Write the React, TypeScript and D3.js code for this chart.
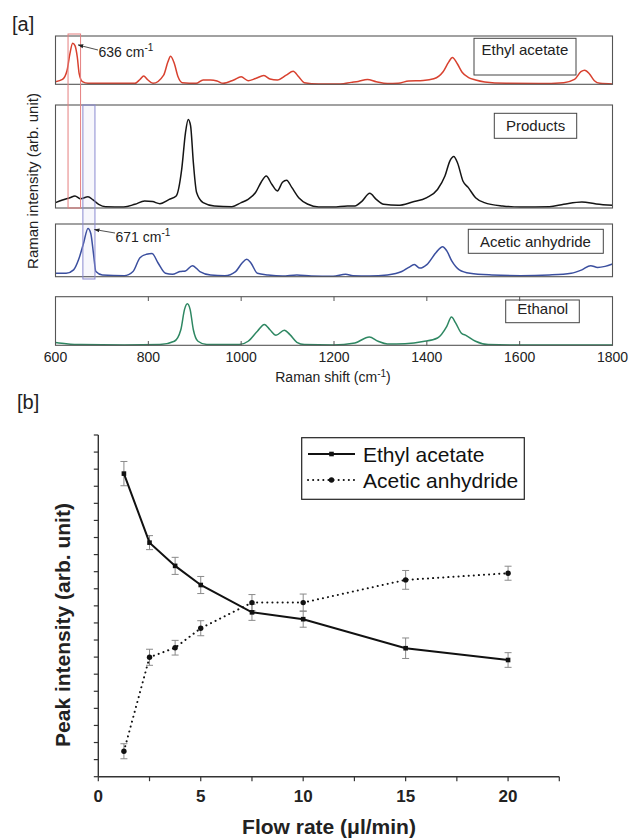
import React from 'react';
import * as d3 from 'd3';

type Pt = [number, number];

// ---------- Panel [a] data: Raman spectra (wavenumber, normalised intensity within panel) ----------
const ramanTicks = [600, 800, 1000, 1200, 1400, 1600, 1800];

const ethylAcetateSpectrum: Pt[] = [
  [600, 0.054], [615, 0.1], [625, 0.29], [631, 0.63], [637, 0.85], [642, 0.8], [647, 0.56], [651, 0.22],
  [658, 0.054], [670, 0.02], [771, 0.02], [782, 0.1], [790, 0.17], [798, 0.1], [810, 0.02], [833, 0.19],
  [842, 0.46], [848, 0.58], [856, 0.43], [864, 0.155], [873, 0.034], [903, 0.02], [918, 0.09], [934, 0.09],
  [948, 0.07], [961, 0.02], [984, 0.09], [1000, 0.155], [1015, 0.075], [1031, 0.12], [1049, 0.18],
  [1062, 0.11], [1078, 0.09], [1097, 0.19], [1112, 0.27], [1124, 0.155], [1136, 0.034], [1167, 0.007],
  [1214, 0.007], [1237, 0.04], [1252, 0.06], [1272, 0.1], [1291, 0.054], [1315, 0.014], [1338, 0.02],
  [1361, 0.07], [1392, 0.08], [1415, 0.115], [1435, 0.26], [1447, 0.46], [1455, 0.555], [1466, 0.42],
  [1476, 0.25], [1490, 0.14], [1505, 0.09], [1525, 0.05], [1571, 0.02], [1641, 0.014], [1695, 0.034],
  [1718, 0.1], [1732, 0.26], [1740, 0.29], [1750, 0.22], [1761, 0.074], [1773, 0.02], [1800, 0.007],
];

const productsSpectrum: Pt[] = [
  [600, 0.052], [615, 0.078], [631, 0.1], [642, 0.117], [654, 0.09], [670, 0.11], [681, 0.078],
  [693, 0.036], [708, 0.013], [747, 0.01], [771, 0.036], [792, 0.068], [809, 0.062], [825, 0.042],
  [845, 0.084], [860, 0.117], [872, 0.38], [880, 0.73], [886, 0.86], [891, 0.8], [897, 0.44],
  [904, 0.15], [918, 0.052], [942, 0.02], [980, 0.013], [1000, 0.052], [1015, 0.084], [1031, 0.15],
  [1043, 0.25], [1054, 0.31], [1066, 0.23], [1078, 0.166], [1089, 0.25], [1098, 0.27], [1109, 0.2],
  [1124, 0.1], [1144, 0.036], [1167, 0.01], [1198, 0.01], [1229, 0.02], [1245, 0.02], [1260, 0.065],
  [1277, 0.143], [1291, 0.084], [1307, 0.036], [1338, 0.026], [1369, 0.058], [1400, 0.1], [1423, 0.18],
  [1439, 0.31], [1450, 0.46], [1458, 0.5], [1466, 0.44], [1478, 0.26], [1489, 0.2], [1505, 0.1],
  [1524, 0.052], [1563, 0.02], [1602, 0.01], [1664, 0.013], [1695, 0.036], [1734, 0.058],
  [1765, 0.039], [1800, 0.026],
];

const aceticAnhydrideSpectrum: Pt[] = [
  [600, 0.065], [623, 0.065], [639, 0.13], [650, 0.33], [660, 0.62], [670, 0.915], [676, 0.82],
  [682, 0.425], [687, 0.098], [701, 0.033], [748, 0.02], [767, 0.098], [782, 0.36], [796, 0.425],
  [808, 0.44], [821, 0.26], [837, 0.065], [852, 0.046], [868, 0.098], [880, 0.11], [895, 0.21],
  [911, 0.098], [934, 0.033], [965, 0.02], [988, 0.098], [1002, 0.26], [1012, 0.33], [1021, 0.26],
  [1035, 0.065], [1058, 0.033], [1089, 0.013], [1120, 0.033], [1151, 0.013], [1198, 0.007],
  [1225, 0.046], [1241, 0.02], [1276, 0.013], [1315, 0.033], [1346, 0.098], [1361, 0.176],
  [1373, 0.23], [1385, 0.163], [1400, 0.23], [1420, 0.46], [1434, 0.57], [1443, 0.49], [1454, 0.294],
  [1470, 0.13], [1493, 0.065], [1540, 0.033], [1602, 0.02], [1664, 0.033], [1711, 0.065],
  [1734, 0.13], [1753, 0.21], [1768, 0.176], [1784, 0.196], [1800, 0.24],
];

const ethanolSpectrum: Pt[] = [
  [600, 0.06], [623, 0.034], [654, 0.014], [748, 0.007], [825, 0.014], [856, 0.083], [870, 0.32],
  [878, 0.74], [884, 0.855], [890, 0.74], [897, 0.32], [907, 0.083], [926, 0.014], [996, 0.014],
  [1015, 0.083], [1035, 0.29], [1050, 0.43], [1062, 0.32], [1075, 0.207], [1093, 0.31], [1105, 0.22],
  [1120, 0.062], [1136, 0.014], [1198, 0.007], [1245, 0.048], [1276, 0.172], [1295, 0.083],
  [1315, 0.028], [1353, 0.034], [1392, 0.076], [1423, 0.15], [1443, 0.39], [1453, 0.58], [1462, 0.46],
  [1474, 0.255], [1485, 0.2], [1505, 0.083], [1532, 0.014], [1602, 0.007], [1800, 0.007],
];

const spectrumNames = ['Ethyl acetate', 'Products', 'Acetic anhydride', 'Ethanol'];
const markedBands: [number, number][] = [[627, 654], [659, 685]];
const markedPeaks = [636, 671];

// ---------- Panel [b] data ----------
const flowRates = [1.25, 2.5, 3.75, 5, 7.5, 10, 15, 20];
const ethylAcetatePeak = [17.74, 13.7, 12.34, 11.22, 9.62, 9.22, 7.52, 6.83];
const ethylAcetateErr = [0.71, 0.41, 0.5, 0.5, 0.47, 0.47, 0.6, 0.43];
const aceticAnhydridePeak = [1.49, 6.99, 7.55, 8.69, 10.19, 10.19, 11.52, 11.91];
const aceticAnhydrideErr = [0.44, 0.47, 0.43, 0.44, 0.47, 0.5, 0.55, 0.41];
const flowMajorTicks = [0, 5, 10, 15, 20];
const flowMinorTicks = [2.5, 7.5, 12.5, 17.5, 22.5];
const intensityTicks = [0, 1, 2, 3, 4, 5, 6, 7, 8, 9, 10, 11, 12, 13, 14, 15, 16, 17, 18, 19, 20];

const FONT = 'Liberation Sans, Arial, Helvetica, sans-serif';

export default function App() {
  // ----- panel a layout -----
  const xA = d3.scaleLinear().domain([600, 1800]).range([55.5, 612.5]);
  const panels = [
    { data: ethylAcetateSpectrum, color: '#d8412f', top: 36, bottom: 84.3,
      box: [474, 38.3, 102, 36.7], tx: 481.5, ty: 55 },
    { data: productsSpectrum, color: '#151515', top: 105, bottom: 208,
      box: [494.3, 113.3, 82.4, 25], tx: 506, ty: 130.5 },
    { data: aceticAnhydrideSpectrum, color: '#3b4f9f', top: 224, bottom: 276.7,
      box: [468.3, 229.3, 135, 24], tx: 480, ty: 246.5 },
    { data: ethanolSpectrum, color: '#2e8762', top: 296.7, bottom: 345.3,
      box: [505.7, 300, 73.6, 22.7], tx: 517.3, ty: 313.5 },
  ];

  // ----- panel b layout -----
  const xB = d3.scaleLinear().domain([0, 22.5]).range([98.3, 559.3]);
  const yB = d3.scaleLinear().domain([0, 20]).range([776.7, 435]);
  const lineB = d3.line<number>().x((_, i) => xB(flowRates[i]));
  const eaPath = d3.line<number>().x((_, i) => xB(flowRates[i])).y((d) => yB(d))(ethylAcetatePeak) || '';
  const aaPath = d3.line<number>().x((_, i) => xB(flowRates[i])).y((d) => yB(d))(aceticAnhydridePeak) || '';
  void lineB;

  const errBars = (vals: number[], errs: number[], key: string) =>
    vals.map((v, i) => {
      const cx = xB(flowRates[i]);
      const y1 = yB(v + errs[i]);
      const y2 = yB(v - errs[i]);
      return (
        <g key={key + i} stroke="#8a8a8a" strokeWidth={1}>
          <line x1={cx} x2={cx} y1={y1} y2={y2} />
          <line x1={cx - 3.5} x2={cx + 3.5} y1={y1} y2={y1} />
          <line x1={cx - 3.5} x2={cx + 3.5} y1={y2} y2={y2} />
        </g>
      );
    });

  return (
    <svg width={630} height={839} viewBox="0 0 630 839"
      style={{ position: 'absolute', left: 0, top: 0, background: '#fff' }} fontFamily={FONT}>
      <rect x={0} y={0} width={630} height={839} fill="#fff" />
      <defs>
        <marker id="arrowHead" viewBox="0 0 10 10" refX={9} refY={5} markerWidth={7} markerHeight={7} orient="auto">
          <path d="M0,1.5 L10,5 L0,8.5 Z" fill="#222" />
        </marker>
      </defs>

      {/* ================= Panel [a] ================= */}
      <text x={12} y={31} fontSize={20} fill="#222">[a]</text>

      {panels.map((p, i) => {
        const y = d3.scaleLinear().domain([0, 1]).range([p.bottom, p.top]);
        const path = d3.line<Pt>().x((d) => xA(d[0])).y((d) => y(d[1])).curve(d3.curveMonotoneX)(p.data) || '';
        return (
          <g key={'panel' + i}>
            <path d={path} fill="none" stroke={p.color} strokeWidth={1.5} strokeLinejoin="round" />
            <rect x={xA(600)} y={p.top} width={xA(1800) - xA(600)} height={p.bottom - p.top}
              fill="none" stroke="#555" strokeWidth={1.1} />
            <rect x={p.box[0]} y={p.box[1]} width={p.box[2]} height={p.box[3]}
              fill="#fff" stroke="#444" strokeWidth={1} />
            <text x={p.tx} y={p.ty} fontSize={15} fill="#222">{spectrumNames[i]}</text>
          </g>
        );
      })}

      {/* ticks on bottom panel */}
      {ramanTicks.slice(1, -1).map((t) => (
        <g key={'rt' + t} stroke="#555" strokeWidth={1}>
          <line x1={xA(t)} x2={xA(t)} y1={345.3} y2={341} />
          <line x1={xA(t)} x2={xA(t)} y1={296.7} y2={301} />
        </g>
      ))}
      {ramanTicks.map((t) => (
        <text key={'rl' + t} x={xA(t)} y={362} fontSize={14} textAnchor="middle" fill="#222">{t}</text>
      ))}
      <text x={333} y={382} fontSize={14} textAnchor="middle" fill="#222">
        Raman shift (cm<tspan dy={-5} fontSize={10}>-1</tspan><tspan dy={5}>)</tspan>
      </text>
      <text transform="translate(32,181) rotate(-90)" fontSize={15} textAnchor="middle"
        dominantBaseline="central" fill="#222">Raman intensity (arb. unit)</text>

      {/* marked bands */}
      <rect x={xA(markedBands[0][0])} y={34} width={xA(markedBands[0][1]) - xA(markedBands[0][0])} height={174}
        fill="none" stroke="#e57f7f" strokeWidth={1} />
      <rect x={xA(markedBands[1][0])} y={105} width={xA(markedBands[1][1]) - xA(markedBands[1][0])} height={174}
        fill="rgba(120,120,200,0.06)" stroke="#8a8ad0" strokeWidth={1} />

      {/* annotations */}
      <line x1={98} y1={50} x2={xA(markedPeaks[0]) + 6} y2={45} stroke="#222" strokeWidth={0.8} markerEnd="url(#arrowHead)" />
      <text x={98.5} y={56.5} fontSize={14} fill="#222">
        {markedPeaks[0]} cm<tspan dy={-6} fontSize={10}>-1</tspan>
      </text>
      <line x1={115} y1={233} x2={xA(markedPeaks[1]) + 6} y2={229.5} stroke="#222" strokeWidth={0.8} markerEnd="url(#arrowHead)" />
      <text x={115.5} y={241.5} fontSize={14} fill="#222">
        {markedPeaks[1]} cm<tspan dy={-6} fontSize={10}>-1</tspan>
      </text>

      {/* ================= Panel [b] ================= */}
      <text x={17} y={409} fontSize={20} fill="#222">[b]</text>

      {/* axes */}
      <line x1={xB(0)} x2={xB(0)} y1={yB(20)} y2={yB(0)} stroke="#333" strokeWidth={1.4} />
      <line x1={xB(0)} x2={xB(22.5)} y1={yB(0)} y2={yB(0)} stroke="#333" strokeWidth={1.4} />
      {intensityTicks.map((t) => (
        <line key={'yt' + t} x1={xB(0) - 4.5} x2={xB(0)} y1={yB(t)} y2={yB(t)} stroke="#333" strokeWidth={1.2} />
      ))}
      {[...flowMajorTicks, ...flowMinorTicks].map((t) => (
        <line key={'xt' + t} x1={xB(t)} x2={xB(t)} y1={yB(0)} y2={yB(0) + 4.5} stroke="#333" strokeWidth={1.2} />
      ))}
      {flowMajorTicks.map((t) => (
        <text key={'xl' + t} x={xB(t)} y={802} fontSize={17} fontWeight="bold" textAnchor="middle" fill="#222">{t}</text>
      ))}
      <text x={329} y={834} fontSize={21} fontWeight="bold" textAnchor="middle" fill="#222">Flow rate (μl/min)</text>
      <text transform="translate(62,625) rotate(-90)" fontSize={21} fontWeight="bold" textAnchor="middle"
        dominantBaseline="central" fill="#222">Peak intensity (arb. unit)</text>

      {/* error bars */}
      {errBars(ethylAcetatePeak, ethylAcetateErr, 'ea')}
      {errBars(aceticAnhydridePeak, aceticAnhydrideErr, 'aa')}

      {/* series */}
      <path d={eaPath} fill="none" stroke="#111" strokeWidth={2} />
      <path d={aaPath} fill="none" stroke="#111" strokeWidth={2} strokeDasharray="0.1,5" strokeLinecap="round" />
      {ethylAcetatePeak.map((v, i) => (
        <rect key={'eam' + i} x={xB(flowRates[i]) - 2.3} y={yB(v) - 2.3} width={4.6} height={4.6} fill="#111" />
      ))}
      {aceticAnhydridePeak.map((v, i) => (
        <circle key={'aam' + i} cx={xB(flowRates[i])} cy={yB(v)} r={2.7} fill="#111" />
      ))}

      {/* legend */}
      <rect x={301.7} y={437.7} width={222.6} height={61.6} fill="#fff" stroke="#222" strokeWidth={1.2} />
      <line x1={308} x2={355} y1={454} y2={454} stroke="#111" strokeWidth={2} />
      <rect x={331.5 - 2.3} y={454 - 2.3} width={4.6} height={4.6} fill="#111" />
      <line x1={308} x2={355} y1={480} y2={480} stroke="#111" strokeWidth={2} strokeDasharray="0.1,5" strokeLinecap="round" />
      <circle cx={331.5} cy={480} r={2.7} fill="#111" />
      <text x={363} y={461.5} fontSize={21} fill="#111">Ethyl acetate</text>
      <text x={363} y={487.5} fontSize={21} fill="#111">Acetic anhydride</text>
    </svg>
  );
}
